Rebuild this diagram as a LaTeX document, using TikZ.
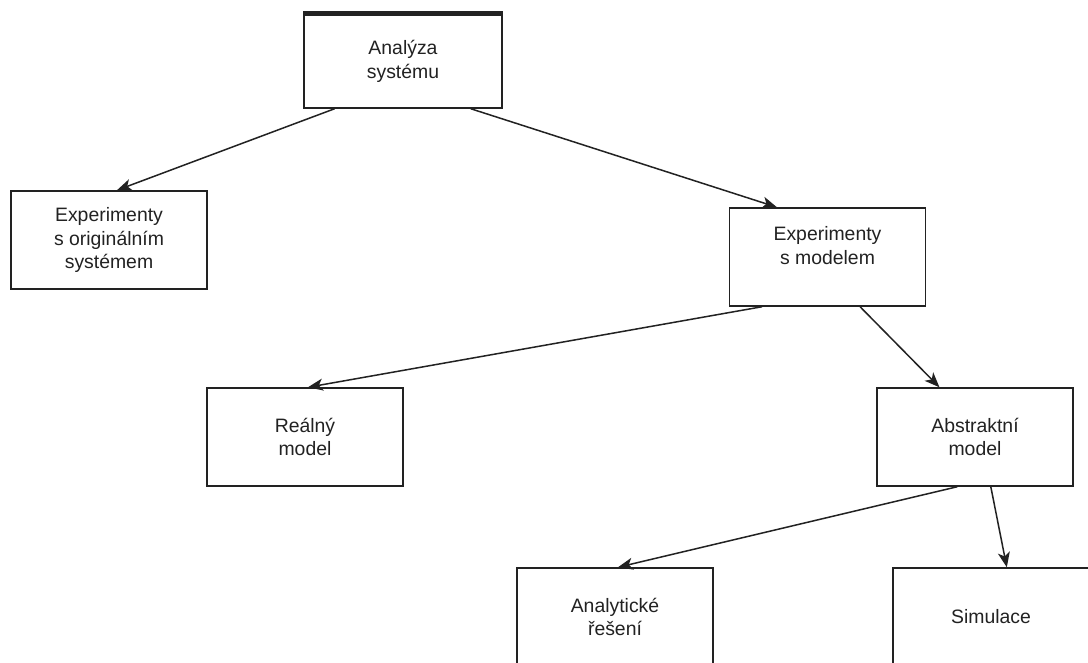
\documentclass[tikz,border=0pt]{standalone}
\usepackage{fontspec}
\setmainfont{Liberation Sans}
\usetikzlibrary{calc,arrows.meta}
\definecolor{ink}{HTML}{222222}
\tikzset{
  box/.style={draw=ink, line width=1.5pt, fill=white, minimum width=196pt, minimum height=98pt,
    inner sep=0pt, align=center, text=ink, font=\fontsize{19.4}{23.3}\selectfont},
  arr/.style={draw=ink, line width=1.5pt, -{Stealth[length=15pt,width=12pt,inset=4pt]}},
}
\begin{document}
\begin{tikzpicture}[x=1pt,y=-1pt]
\useasboundingbox (0,0) rectangle (1088,662);
\clip (0,0) rectangle (1088,662);
\fill[white] (0,0) rectangle (1088,662);
\node[box, minimum width=198pt, minimum height=93.5pt] (A) at (403,61.25) {Analýza\\systému};
\node[box] (B) at (109,240) {Experimenty\\s originálním\\systémem};
\node[box] (C) at (827.5,257) {Experimenty\\s modelem\\\mbox{}};
\node[box] (D) at (305,437) {Reálný\\model};
\node[box] (E) at (975,437) {Abstraktní\\model};
\node[box] (F) at (615,617) {Analytické\\řešení};
\node[box] (G) at (991,617) {Simulace};
\draw[ink, line width=5pt] (A.north west) -- (A.north east);
\draw[arr] ($(A.south west)!0.157!(A.south east)$) -- ($(B.north west)!0.54!(B.north east)$);
\draw[arr] ($(A.south west)!0.84!(A.south east)$) -- ($(C.north west)!0.244!(C.north east)$);
\draw[arr] ($(C.south west)!0.168!(C.south east)$) -- ($(D.north west)!0.515!(D.north east)$);
\draw[arr] ($(C.south west)!0.665!(C.south east)$) -- ($(E.north west)!0.32!(E.north east)$);
\draw[arr] ($(E.south west)!0.41!(E.south east)$) -- ($(F.north west)!0.515!(F.north east)$);
\draw[arr] ($(E.south west)!0.58!(E.south east)$) -- ($(G.north west)!0.58!(G.north east)$);
\end{tikzpicture}
\end{document}
